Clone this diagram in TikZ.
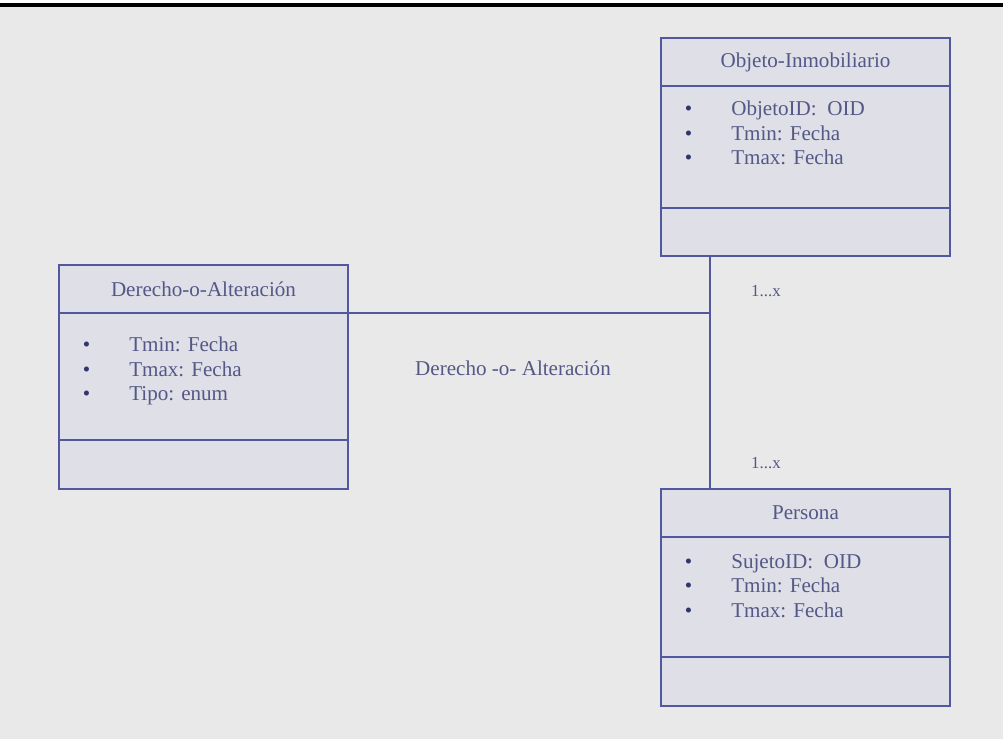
\documentclass[tikz,border=0pt]{standalone}
\usepackage{fontspec}
\setmainfont{Liberation Serif}
\usetikzlibrary{positioning}
\definecolor{BoxLine}{RGB}{82,88,160}
\definecolor{BoxFill}{RGB}{222,223,231}
\definecolor{BoxText}{RGB}{84,88,134}
\definecolor{DotBlue}{RGB}{50,54,110}
\definecolor{PageGray}{RGB}{233,233,233}
\newcommand\attrbullet{\makebox[1.16cm][l]{\textcolor{DotBlue}{\textbullet}}}

\begin{document}
\begin{tikzpicture}[
    part/.style={draw=BoxLine,fill=BoxFill,line width=1.1pt,minimum width=7.225cm,
        outer sep=0pt,inner sep=0pt,text=BoxText,font=\fontsize{15}{18}\selectfont},
    classtitle/.style={part,minimum height=1.2cm},
    attrs/.style={part,minimum height=3.05cm},
    ops/.style={part,minimum height=1.2cm},
    items/.style={inner sep=0pt,align=left,text=BoxText,font=\fontsize{15}{17.4}\selectfont},
    assoc/.style={draw=BoxLine,line width=1.1pt},
    lbl/.style={text=BoxText,font=\fontsize{15}{18}\selectfont},
    mult/.style={text=BoxText,font=\fontsize{12}{14}\selectfont}]
    \useasboundingbox (0,0) rectangle (25.075,18.475);
    % page
    \fill[PageGray] (0,0) rectangle (25.075,18.3);
    \fill[black] (0,18.3) rectangle (25.075,18.4);

    % Objeto-Inmobiliario
    \node[classtitle,anchor=north west] (objT) at (16.525,17.525) {Objeto-Inmobiliario};
    \node[attrs,below=0pt of objT] (objA) {};
    \node[ops,below=0pt of objA] (objO) {};
    \node[items,below right=0.375cm and 0.59cm of objA.north west] (objL)
        {\attrbullet ObjetoID:~ OID\\ \attrbullet Tmin: Fecha\\ \attrbullet Tmax: Fecha};

    % Derecho-o-Alteracion
    \node[classtitle,anchor=north west] (derT) at (1.475,11.85) {Derecho-o-Alteración};
    \node[attrs,minimum height=3.175cm,below=0pt of derT] (derA) {};
    \node[ops,minimum height=1.225cm,below=0pt of derA] (derO) {};
    \node[items,below right=0.6cm and 0.59cm of derA.north west] (derL)
        {\attrbullet Tmin: Fecha\\ \attrbullet Tmax: Fecha\\ \attrbullet Tipo: enum};

    % Persona
    \node[classtitle,anchor=north west] (perT) at (16.525,6.25) {Persona};
    \node[attrs,minimum height=3cm,below=0pt of perT] (perA) {};
    \node[ops,minimum height=1.225cm,below=0pt of perA] (perO) {};
    \node[items,below right=0.425cm and 0.59cm of perA.north west] (perL)
        {\attrbullet SujetoID:~ OID\\ \attrbullet Tmin: Fecha\\ \attrbullet Tmax: Fecha};

    % association
    \coordinate (jn) at (17.75,10.65);
    \draw[assoc] (derT.south east) -- (jn);
    \draw[assoc] (objO.south -| jn) -- (perT.north -| jn);
    \node[mult] (m1) at (19.15,11.2) {1...x};
    \node[mult] (m2) at (19.15,6.9) {1...x};
    \node[lbl] (rel) at (12.825,9.275) {Derecho -o- Alteración};
\end{tikzpicture}
\end{document}
